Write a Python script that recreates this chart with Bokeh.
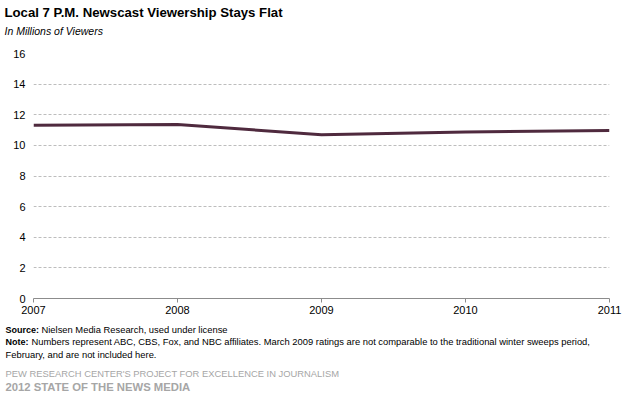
from bokeh.plotting import figure
from bokeh.models import Range1d, FixedTicker
from bokeh.layouts import column
from bokeh.core.properties import value
from bokeh.embed import file_html
from bokeh.resources import INLINE

years = [2007, 2008, 2009, 2010, 2011]
viewers = [11.32, 11.36, 10.70, 10.88, 10.97]
y_ticks = [0, 2, 4, 6, 8, 10, 12, 14, 16]

title = "Local 7 P.M. Newscast Viewership Stays Flat"
subtitle = "In Millions of Viewers"
source_label = "Source:"
source_text = "Nielsen Media Research, used under license"
note_label = "Note:"
note_line1 = "Numbers represent ABC, CBS, Fox, and NBC affiliates. March 2009 ratings are not comparable to the traditional winter sweeps period,"
note_line2 = "February, and are not included here."
credit1 = "PEW RESEARCH CENTER'S PROJECT FOR EXCELLENCE IN JOURNALISM"
credit2 = "2012 STATE OF THE NEWS MEDIA"

FONT = "Liberation Sans"
W = 633


def text_fig(h):
    f = figure(width=W, height=h, output_backend="svg", toolbar_location=None,
               x_range=Range1d(0, W), y_range=Range1d(h, 0),
               min_border=0, min_border_left=0, min_border_right=0,
               min_border_top=0, min_border_bottom=0, frame_align=False)
    f.axis.visible = False
    f.grid.visible = False
    f.outline_line_color = None
    return f


def put(f, txt, x, y, size, style="normal", color="#000000"):
    f.text(x=[x], y=[y], text=[txt], text_font=value(FONT), text_font_size=size,
           text_font_style=style, text_color=color,
           text_baseline="middle", text_align="left")


# ---- header ----
TOP_H = 45
top = text_fig(TOP_H)
put(top, title, 4, 12, "13.2px", "bold")
put(top, subtitle, 4, 30, "10.5px", "italic")

# ---- main chart (frame at page x 33..609, y 53..298) ----
MAIN_TOP = TOP_H
p = figure(width=W, height=275, output_backend="svg", toolbar_location=None,
           x_range=Range1d(2007, 2011), y_range=Range1d(0, 16),
           min_border_left=33, min_border_right=24,
           min_border_top=53 - MAIN_TOP, min_border_bottom=275 - (298 - MAIN_TOP),
           frame_align=False)
p.outline_line_color = None
p.background_fill_color = "white"

p.line(years, viewers, line_color="#4F2A3E", line_width=3)

p.xaxis.ticker = FixedTicker(ticks=years)
p.xaxis.axis_line_color = "#8c8c8c"
p.xaxis.major_tick_line_color = "#8c8c8c"
p.xaxis.major_tick_out = 4
p.xaxis.major_tick_in = 0
p.xaxis.minor_tick_line_color = None
p.xaxis.major_label_standoff = 3
p.xaxis.major_label_text_font = FONT
p.xaxis.major_label_text_font_size = "11px"
p.xaxis.major_label_text_color = "#000000"

p.yaxis.ticker = FixedTicker(ticks=y_ticks)
p.yaxis.axis_line_color = None
p.yaxis.major_tick_line_color = None
p.yaxis.minor_tick_line_color = None
p.yaxis.major_tick_out = 0
p.yaxis.major_tick_in = 0
p.yaxis.major_label_standoff = 8
p.yaxis.major_label_text_font = FONT
p.yaxis.major_label_text_font_size = "11px"
p.yaxis.major_label_text_color = "#000000"

p.xgrid.grid_line_color = None
p.ygrid.ticker = FixedTicker(ticks=y_ticks[1:])
p.ygrid.grid_line_color = "#bdbdbd"
p.ygrid.grid_line_dash = "3 2"
p.ygrid.grid_line_width = 1

# ---- footer ----
FOOT_TOP = MAIN_TOP + 275
bot = text_fig(399 - FOOT_TOP)
put(bot, source_label, 5, 329 - FOOT_TOP, "9px", "bold")
put(bot, source_text, 41, 329 - FOOT_TOP, "9.4px")
put(bot, note_label, 5, 341 - FOOT_TOP, "9px", "bold")
put(bot, note_line1, 31, 341 - FOOT_TOP, "9.4px")
put(bot, note_line2, 5, 354 - FOOT_TOP, "9.4px")
put(bot, credit1, 5, 373 - FOOT_TOP, "9.4px", color="#a6a6a6")
put(bot, credit2, 5, 386 - FOOT_TOP, "11.3px", "bold", color="#a6a6a6")

layout = column(top, p, bot, spacing=0)
open("out.html", "w").write(file_html(layout, INLINE))
